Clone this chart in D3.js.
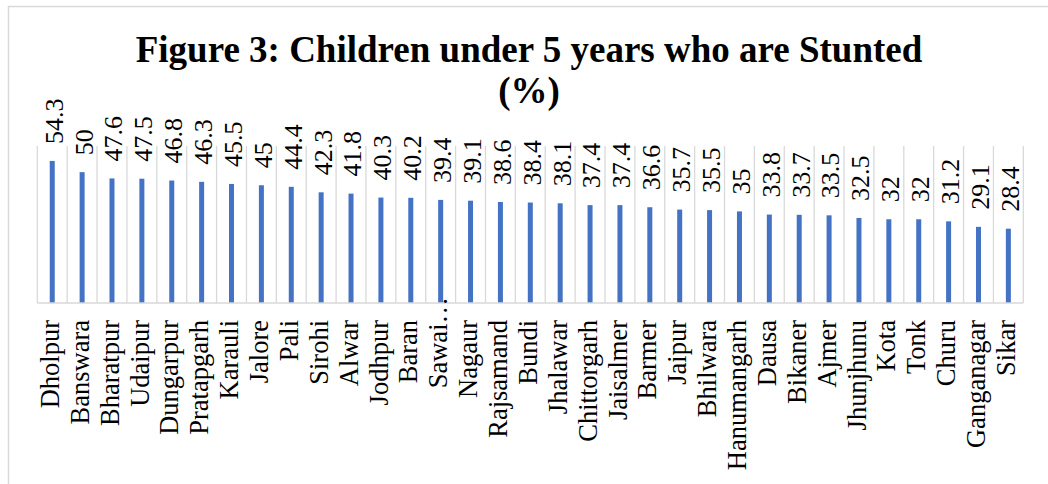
<!DOCTYPE html>
<html>
<head>
<meta charset="utf-8">
<script src="https://cdn.jsdelivr.net/npm/d3@7"></script>
<style>
  body { margin: 0; background: #fff; }
  svg { display: block; }
</style>
</head>
<body>
<svg id="chart" width="1048" height="484"></svg>
<script>
const districts = ['Dholpur', 'Banswara', 'Bharatpur', 'Udaipur', 'Dungarpur', 'Pratapgarh', 'Karauli',
  'Jalore', 'Pali', 'Sirohi', 'Alwar', 'Jodhpur', 'Baran', 'Sawai\u2026', 'Nagaur', 'Rajsamand', 'Bundi',
  'Jhalawar', 'Chittorgarh', 'Jaisalmer', 'Barmer', 'Jaipur', 'Bhilwara', 'Hanumangarh', 'Dausa',
  'Bikaner', 'Ajmer', 'Jhunjhunu', 'Kota', 'Tonk', 'Churu', 'Ganganagar', 'Sikar']
const stunted = [54.3, 50, 47.6, 47.5, 46.8, 46.3, 45.5, 45, 44.4, 42.3, 41.8, 40.3, 40.2, 39.4, 39.1,
  38.6, 38.4, 38.1, 37.4, 37.4, 36.6, 35.7, 35.5, 35, 33.8, 33.7, 33.5, 32.5, 32, 32, 31.2, 29.1, 28.4]
const titleLines = ['Figure 3: Children under 5 years who are Stunted', '(%)']

let svg = d3.select('#chart')
let serif = '"Liberation Serif", "Times New Roman", serif'
let gridColor = '#d9d9d9'
let barColor = '#4472c4'
let barW = 5

// outer chart frame (right/bottom run off the picture)
svg.append('rect')
  .attr('x', 8.5)
  .attr('y', 6.5)
  .attr('width', 1060)
  .attr('height', 500)
  .attr('fill', '#fff')
  .attr('stroke', gridColor)
  .attr('stroke-width', 1.5)

let data = districts.map((d, i) => ({name: d, value: stunted[i]}))

let x = d3.scaleBand()
  .domain(districts)
  .range([37.3, 1023.3])
  .padding(0)
let y = d3.scaleLinear()
  .domain([0, 60])
  .range([303, 146])

// category separators
let bounds = districts.map(d => x(d)).concat([x.range()[1]])
svg.append('g').selectAll('line')
  .data(bounds)
  .join('line')
  .attr('x1', d => d)
  .attr('x2', d => d)
  .attr('y1', y(60))
  .attr('y2', y(0))
  .attr('stroke', gridColor)
  .attr('stroke-width', 1.3)

// bars
svg.append('g').selectAll('rect')
  .data(data)
  .join('rect')
  .attr('x', d => x(d.name) + x.bandwidth() / 2 - barW / 2)
  .attr('y', d => y(d.value))
  .attr('width', barW)
  .attr('height', d => y(0) - y(d.value))
  .attr('fill', barColor)

// axis line
svg.append('line')
  .attr('x1', x.range()[0])
  .attr('x2', x.range()[1])
  .attr('y1', y(0))
  .attr('y2', y(0))
  .attr('stroke', gridColor)
  .attr('stroke-width', 1.5)

// value labels
svg.append('g').selectAll('text')
  .data(data)
  .join('text')
  .attr('transform', d => 'translate(' + (x(d.name) + x.bandwidth() / 2) + ',' + (y(d.value) - 17) + ') rotate(-90)')
  .attr('dy', '0.4em')
  .attr('text-anchor', 'start')
  .style('font-family', serif)
  .style('font-size', '26px')
  .attr('fill', '#000')
  .text(d => d.value)

// category labels
svg.append('g').selectAll('text')
  .data(data)
  .join('text')
  .attr('transform', d => {
    let top = d.name.endsWith('\u2026') ? 297 : 320
    return 'translate(' + (x(d.name) + x.bandwidth() / 2) + ',' + top + ') rotate(-90)'
  })
  .attr('dy', '0.25em')
  .attr('text-anchor', 'end')
  .style('font-family', serif)
  .style('font-size', '26.5px')
  .attr('fill', '#000')
  .text(d => d.name)

// title
svg.append('g').selectAll('text')
  .data(titleLines)
  .join('text')
  .attr('x', 529)
  .attr('y', (d, i) => 62 + i * 41)
  .attr('text-anchor', 'middle')
  .style('font-family', serif)
  .style('font-weight', 'bold')
  .style('font-size', '37px')
  .attr('fill', '#000')
  .text(d => d)
</script>
</body>
</html>
